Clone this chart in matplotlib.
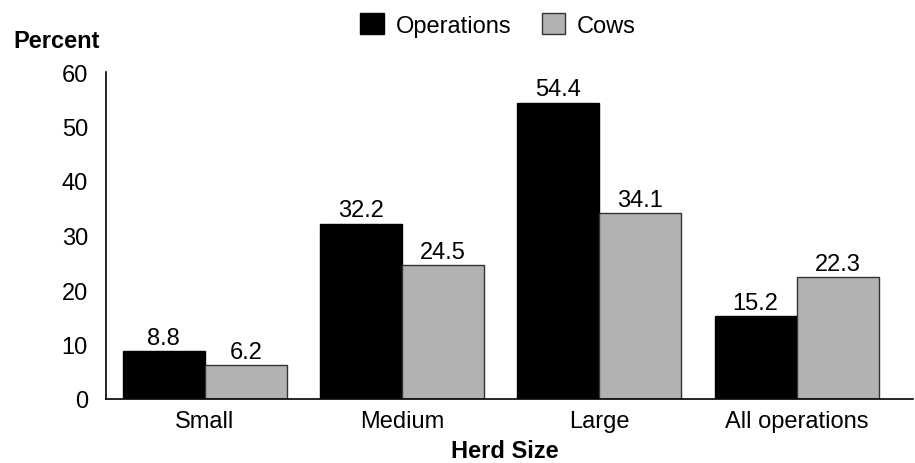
import matplotlib
matplotlib.use("Agg")
import matplotlib.pyplot as plt
import numpy as np

categories = ["Small", "Medium", "Large", "All operations"]
operations = [8.8, 32.2, 54.4, 15.2]
cows = [6.2, 24.5, 34.1, 22.3]
yticks = [0, 10, 20, 30, 40, 50, 60]

plt.rcParams['font.family'] = ['Liberation Sans', 'DejaVu Sans']
FS = 17

fig = plt.figure(figsize=(9.15, 4.64), dpi=100)
ax = fig.add_axes([106/915, 64/464, (913-106)/915, (400-73)/464])

x = np.arange(len(categories))
w = 0.416
b1 = ax.bar(x - w/2, operations, w, color='black', edgecolor='black', linewidth=1, label='Operations')
b2 = ax.bar(x + w/2, cows, w, color='#b2b2b2', edgecolor='#333333', linewidth=1, label='Cows')

for bars, vals in ((b1, operations), (b2, cows)):
    for r, v in zip(bars, vals):
        ax.text(r.get_x() + r.get_width()/2, v + 0.4, f"{v:.1f}", ha='center', va='bottom', fontsize=FS)

ax.set_xlim(-0.5, 3.59)
ax.set_ylim(0, 60)
ax.set_yticks(yticks)
ax.set_xticks(x)
ax.set_xticklabels(categories, fontsize=FS)
ax.tick_params(axis='y', length=0, labelsize=FS, pad=13)
ax.tick_params(axis='x', length=0, labelsize=FS, pad=8)
for s in ('top', 'right'):
    ax.spines[s].set_visible(False)
for s in ('left', 'bottom'):
    ax.spines[s].set_linewidth(1.2)
    ax.spines[s].set_color('black')

fig.text(13/915, 1 - 41/464, "Percent", fontsize=FS, fontweight='bold', ha='left', va='center')
fig.text(505/915, 1 - 452/464, "Herd Size", fontsize=FS, fontweight='bold', ha='center', va='center')

fig.legend(handles=[b1, b2], labels=['Operations', 'Cows'], loc='center', bbox_to_anchor=(498/915, 1 - 26/464),
           ncol=2, frameon=False, fontsize=FS, handlelength=1.0, handleheight=1.0, handletextpad=0.5, columnspacing=1.3)

fig.savefig("out.png", dpi=100)
